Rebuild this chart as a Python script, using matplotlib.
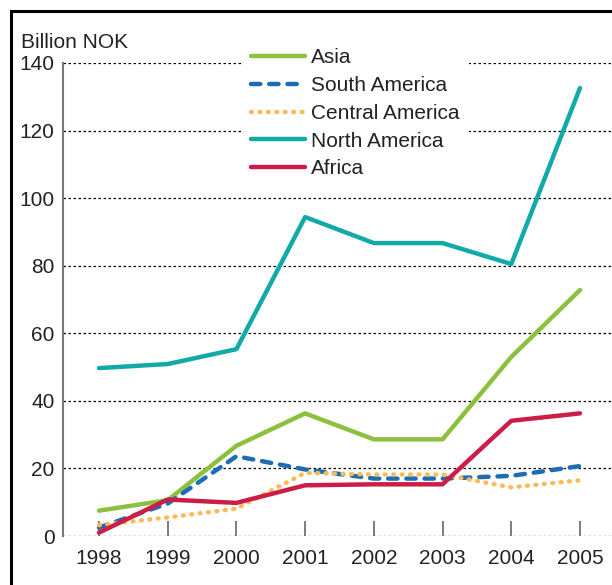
import matplotlib
matplotlib.use("Agg")
import matplotlib.pyplot as plt
from matplotlib.lines import Line2D

plt.rcParams['font.family'] = ['Liberation Sans', 'DejaVu Sans']

years = [1998, 1999, 2000, 2001, 2002, 2003, 2004, 2005]
asia = [7.5, 10.6, 26.7, 36.3, 28.6, 28.6, 53.0, 72.8]
south_america = [2.5, 9.6, 23.6, 19.7, 17.0, 17.0, 17.8, 20.7]
central_america = [3.2, 5.5, 8.1, 18.7, 18.2, 18.2, 14.4, 16.5]
north_america = [49.7, 50.9, 55.3, 94.4, 86.7, 86.7, 80.5, 132.6]
africa = [1.0, 10.8, 9.8, 15.0, 15.3, 15.3, 34.1, 36.3]
yticks = [0, 20, 40, 60, 80, 100, 120, 140]

FS = 15
fig = plt.figure(figsize=(6.12, 5.85), dpi=100)
ax = fig.add_axes([63/612, 1-536/585, 1-63/612, (536-63)/585])

lw = 3.2
ax.plot(years, asia, color='#8cc03f', lw=lw, label='Asia', solid_capstyle='round', zorder=3)
ax.plot(years, south_america, color='#1d6db5', lw=lw, label='South America',
        linestyle=(0, (2.1, 2.0)), dash_capstyle='round', zorder=3)
ax.plot(years, central_america, color='#fdbb55', lw=lw, label='Central America',
        linestyle=(0, (0.2, 1.7)), dash_capstyle='round', zorder=3)
ax.plot(years, north_america, color='#12aaa8', lw=lw, label='North America', solid_capstyle='round', zorder=3)
ax.plot(years, africa, color='#cc1d47', lw=lw, label='Africa', solid_capstyle='round', zorder=4)

ax.set_xlim(1997.476, 2005.466)
ax.set_ylim(0, 140)
ax.set_yticks(yticks)
ax.set_xticks(years)
ax.set_xticklabels([str(y) for y in years])

for v in yticks:
    ax.axhline(v, color='black', lw=0.9, linestyle=(0, (2, 2)), zorder=1)

for s in ['top', 'right', 'bottom']:
    ax.spines[s].set_visible(False)
ax.spines['left'].set_color('#777777')
ax.spines['left'].set_linewidth(1.5)

ax.tick_params(axis='y', length=0, labelsize=FS, pad=6, colors='#222222')
ax.tick_params(axis='x', direction='in', length=11, width=1.2, color='#666666',
               labelsize=FS, pad=9, labelcolor='#222222')
ax.set_facecolor('none')

leg = ax.legend(loc='upper left', frameon=True, fontsize=FS,
                handlelength=2.55, handletextpad=0.33, labelspacing=0.42,
                borderpad=0.45, borderaxespad=0)
leg.get_frame().set_edgecolor('none')
leg.get_frame().set_facecolor('white')
leg.get_frame().set_alpha(1)
leg.set_zorder(5)
leg.set_bbox_to_anchor((242/612, 1-39/585), transform=fig.transFigure)
for t in leg.get_texts():
    t.set_color('#222222')

fig.text(21/612, 1-42/585, 'Billion NOK', fontsize=FS, ha='left', va='center', color='#222222')

fig.add_artist(Line2D([11/612, 11/612], [0, 1-11/585], transform=fig.transFigure, color='black', lw=2.2))
fig.add_artist(Line2D([11/612, 1], [1-11/585, 1-11/585], transform=fig.transFigure, color='black', lw=2.2))

fig.savefig('out.png', dpi=100)
